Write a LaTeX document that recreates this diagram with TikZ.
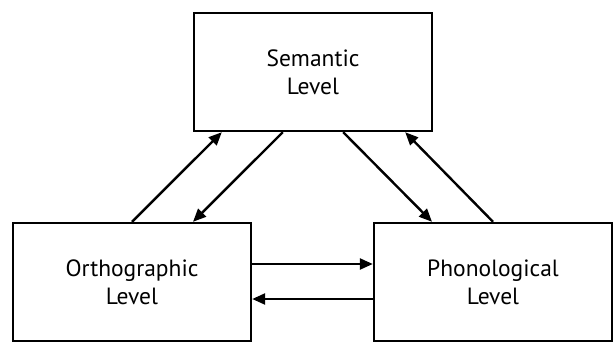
\documentclass[tikz,border=0pt]{standalone}
\usepackage{fontspec}
\setmainfont{PT Sans}
\usetikzlibrary{arrows.meta}

\begin{document}
\begin{tikzpicture}[x=1pt,y=-1pt,>={Triangle[length=13pt,width=11pt]},
  level/.style={draw,line width=2.4pt,align=center,minimum width=238pt,minimum height=118pt,
    font=\fontsize{23.5}{28}\selectfont,inner sep=0pt},
  link/.style={->,line width=2.4pt}]
\useasboundingbox (0,0) rectangle (613,343);
% the three levels
\node[level] (sem) at (313,72) {Semantic\\Level};
\node[level] (orth) at (132,282) {Orthographic\\Level};
\node[level] (phon) at (493,282) {Phonological\\Level};
% semantic <-> orthographic
\draw[link] (orth.north) -- ([xshift=29pt]sem.south west);
\draw[link] ([xshift=90pt]sem.south west) -- ([xshift=61pt]orth.north);
% semantic <-> phonological
\draw[link] ([xshift=-90pt]sem.south east) -- ([xshift=-61pt]phon.north);
\draw[link] (phon.north) -- ([xshift=-28pt]sem.south east);
% orthographic <-> phonological
\draw[link] ([yshift=18pt]orth.east) -- ([yshift=18pt]phon.west);
\draw[link] ([yshift=-17pt]phon.west) -- ([yshift=-17pt]orth.east);
\end{tikzpicture}
\end{document}
